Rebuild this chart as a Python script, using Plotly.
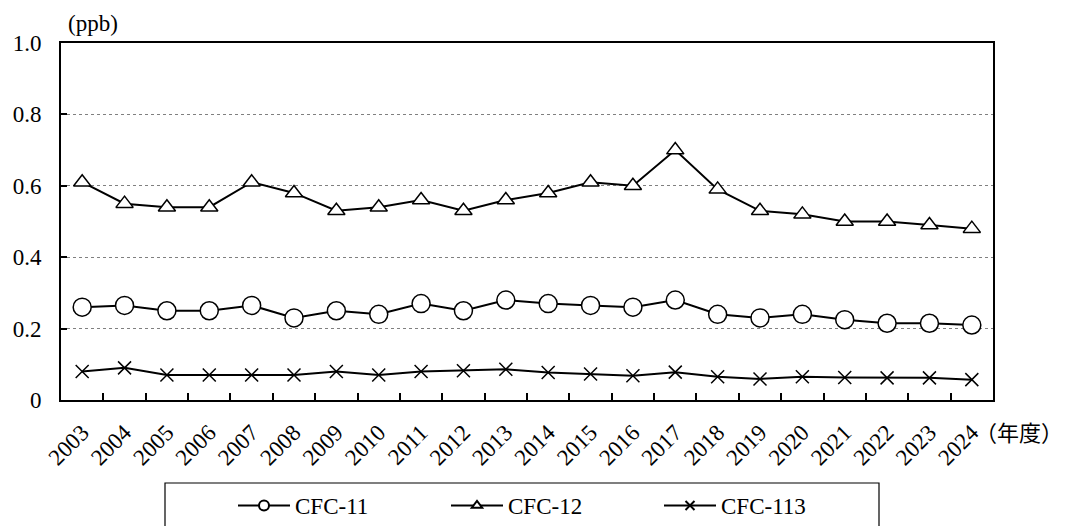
import plotly.graph_objects as go

years = [str(y) for y in range(2003, 2025)]
cfc11 = [0.26, 0.265, 0.25, 0.25, 0.265, 0.23, 0.25, 0.24, 0.27, 0.25, 0.28,
         0.27, 0.265, 0.26, 0.28, 0.24, 0.23, 0.24, 0.225, 0.215, 0.215, 0.21]
cfc12 = [0.61, 0.55, 0.54, 0.54, 0.61, 0.58, 0.53, 0.54, 0.56, 0.53, 0.56,
         0.58, 0.61, 0.60, 0.70, 0.59, 0.53, 0.52, 0.50, 0.50, 0.49, 0.48]
cfc113 = [0.08, 0.09, 0.07, 0.07, 0.07, 0.07, 0.08, 0.07, 0.08, 0.082, 0.086,
          0.077, 0.073, 0.068, 0.078, 0.065, 0.059, 0.065, 0.063, 0.062, 0.062, 0.057]
series_names = ["CFC-11", "CFC-12", "CFC-113"]
ytick_vals = [0, 0.2, 0.4, 0.6, 0.8, 1.0]
ytick_text = ["0", "0.2", "0.4", "0.6", "0.8", "1.0"]

FONT = "Liberation Serif, Noto Sans CJK JP, serif"

styles = [
    dict(symbol="circle", size=18, lsize=10, color="white"),
    dict(symbol="triangle-up", size=15, lsize=9, color="white"),
    dict(symbol="x-thin", size=13, lsize=9, color="black"),
]

fig = go.Figure()
for name, vals, st in zip(series_names, [cfc11, cfc12, cfc113], styles):
    fig.add_trace(go.Scatter(
        x=years, y=vals, name=name, mode="lines+markers",
        legendgroup=name, showlegend=False,
        line=dict(color="black", width=2),
        marker=dict(symbol=st["symbol"], size=st["size"], color=st["color"],
                    line=dict(color="black", width=1.5))))
for name, st in zip(series_names, styles):
    # legend key with smaller marker, as in the reference legend
    fig.add_trace(go.Scatter(
        x=[None], y=[None], name=name, mode="lines+markers",
        legendgroup=name, showlegend=True,
        line=dict(color="black", width=2),
        marker=dict(symbol=st["symbol"], size=st["lsize"], color=st["color"],
                    line=dict(color="black", width=2))))

# page body margin offsets the figure by 8px; work in window pixels
OFF = 8
W, H = 1065 - OFF, 526 - OFF
PL, PR, PT, PB = 61, 993, 43, 400          # plot box in window pixels
L, T = PL - OFF, PT - OFF
R, B = W - (PR - OFF), H - (PB - OFF)
pw, ph = PR - PL, PB - PT

def px_x(px):
    return (px - PL) / pw

def px_y(py):
    return (PB - py) / ph

fig.update_layout(
    width=W, height=H,
    margin=dict(l=L, r=R, t=T, b=B, pad=0),
    paper_bgcolor="white", plot_bgcolor="white",
    font=dict(family=FONT, size=23, color="black"),
    showlegend=True,
    legend=dict(orientation="h", xref="container", yref="container",
                x=(239 - 6 - OFF) / W, xanchor="left",
                y=1 - (506 - 22 - OFF) / H, yanchor="top",
                font=dict(family=FONT, size=23, color="black"),
                bgcolor="rgba(0,0,0,0)", borderwidth=0,
                itemwidth=52,
                entrywidth=146, entrywidthmode="pixels",
                traceorder="normal"),
    xaxis=dict(type="category", tickson="boundaries", ticks="inside",
               ticklen=7, tickwidth=2, tickcolor="black",
               showline=True, linecolor="black", linewidth=2, mirror=True,
               showgrid=False, tickangle=-45, automargin=False,
               ticklabelstandoff=8,
               tickfont=dict(family=FONT, size=23, color="black"),
               range=[-0.5, len(years) - 0.5]),
    yaxis=dict(range=[0, 1.0], tickvals=ytick_vals, ticktext=ytick_text,
               ticks="inside", ticklen=6, tickwidth=2, tickcolor="black",
               showline=True, linecolor="black", linewidth=2, mirror=True,
               showgrid=True, gridcolor="#808080", gridwidth=1, griddash="dot",
               zeroline=False, ticklabelstandoff=13, automargin=False,
               tickfont=dict(family=FONT, size=23, color="black")),
    shapes=[dict(type="rect", xref="paper", yref="paper",
                 x0=px_x(165), x1=px_x(879), y0=px_y(545), y1=px_y(483),
                 line=dict(color="black", width=1.2), fillcolor="rgba(0,0,0,0)")],
    annotations=[
        dict(text="(ppb)", xref="paper", yref="paper", x=px_x(66), y=px_y(24),
             xanchor="left", yanchor="middle", showarrow=False,
             font=dict(family=FONT, size=23, color="black")),
        dict(text="（年度）", xref="paper", yref="paper", x=px_x(1019), y=px_y(431),
             xanchor="center", yanchor="middle", showarrow=False,
             font=dict(family="Noto Sans CJK JP", size=22, color="black")),
    ],
)

fig.write_html("out.html")
